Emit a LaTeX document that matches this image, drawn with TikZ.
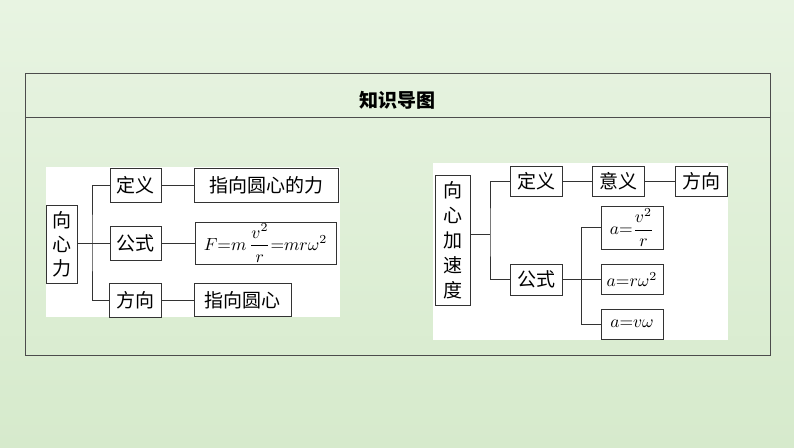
\documentclass[tikz,border=0pt]{standalone}
\usepackage{amsmath}
\usepackage{fontspec}
\newfontfamily\cjk{Noto Sans CJK SC}
\newcommand{\mymathbig}[1]{\scalebox{1.75}{$#1$}}
\begin{document}
\begin{tikzpicture}[x=1pt,y=-1pt,
  bx/.style={draw=black!80,line width=0.8pt,fill=white,inner sep=0pt,font=\cjk\fontsize{19}{21}\selectfont},
  mf/.style={font=\normalsize},
  ln/.style={draw=black!80,line width=0.8pt}]
\shade[top color={rgb,255:red,232;green,244;blue,226},bottom color={rgb,255:red,214;green,234;blue,204}] (0,0) rectangle (794,447);
\useasboundingbox (0,0) rectangle (794,447);
\draw[black!70,line width=0.8pt] (25,73) rectangle (770,355);
\draw[black!70,line width=0.8pt] (25,117) -- (770,117);
\node[font=\cjk\bfseries\fontsize{19}{21}\selectfont] (title) at (397.5,100) {知识导图};
% left panel
\fill[white] (46,167) rectangle (340,317);
\node[bx,minimum width=31,minimum height=78,align=center,font=\cjk\fontsize{19}{24}\selectfont] (L) at (61.5,244) {向\\心\\力};
\node[bx,minimum width=51,minimum height=34] (L1) at (135.5,185) {定义};
\node[bx,minimum width=51,minimum height=34] (L2) at (135.5,243) {公式};
\node[bx,minimum width=52,minimum height=34] (L3) at (135,300) {方向};
\node[bx,minimum width=144,minimum height=34] (L1a) at (266,185) {指向圆心的力};
\node[bx,mf,minimum width=141,minimum height=42] (L2a) at (265.5,243) {\mymathbig{F{=}m\,\dfrac{v^2}{r}{=}mr\omega^2}};
\node[bx,minimum width=97,minimum height=33] (L3a) at (242.5,300) {指向圆心};
\coordinate (tL) at (92,243);
\draw[ln] (tL -| L.east) -- (tL);
\draw[ln] (L1.west) -| (tL) |- (L3.west);
\draw[ln] (tL) -- (L2.west);
\draw[ln] (L1) -- (L1a); \draw[ln] (L2) -- (L2a); \draw[ln] (L3) -- (L3a);
% right panel
\fill[white] (433,163) rectangle (728,340);
\node[bx,minimum width=35,minimum height=130,align=center,font=\cjk\fontsize{19}{25}\selectfont] (R) at (452.5,240) {向\\心\\加\\速\\度};
\node[bx,minimum width=52,minimum height=30] (R1) at (536,181) {定义};
\node[bx,minimum width=52,minimum height=30] (R1b) at (618,181) {意义};
\node[bx,minimum width=52,minimum height=30] (R1c) at (701,181) {方向};
\node[bx,minimum width=52,minimum height=31] (R2) at (536,279.5) {公式};
\node[bx,mf,minimum width=62,minimum height=43] (F1) at (632,227.5) {\mymathbig{a{=}\dfrac{v^2}{r}}};
\node[bx,mf,minimum width=62,minimum height=30] (F2) at (632,279.5) {\mymathbig{a{=}r\omega^2}};
\node[bx,mf,minimum width=62,minimum height=30] (F3) at (632,324) {\mymathbig{a{=}v\omega}};
\coordinate (tR) at (490,234);
\draw[ln] (tR -| R.east) -- (tR);
\draw[ln] (R1.west) -| (tR) |- (R2.west);
\draw[ln] (R1) -- (R1b); \draw[ln] (R1b) -- (R1c);
\coordinate (tR2) at (581,279.5);
\draw[ln] (R2.east) -- (F2.west);
\draw[ln] (F1.west) -| (tR2) |- (F3.west);
\end{tikzpicture}
\end{document}
